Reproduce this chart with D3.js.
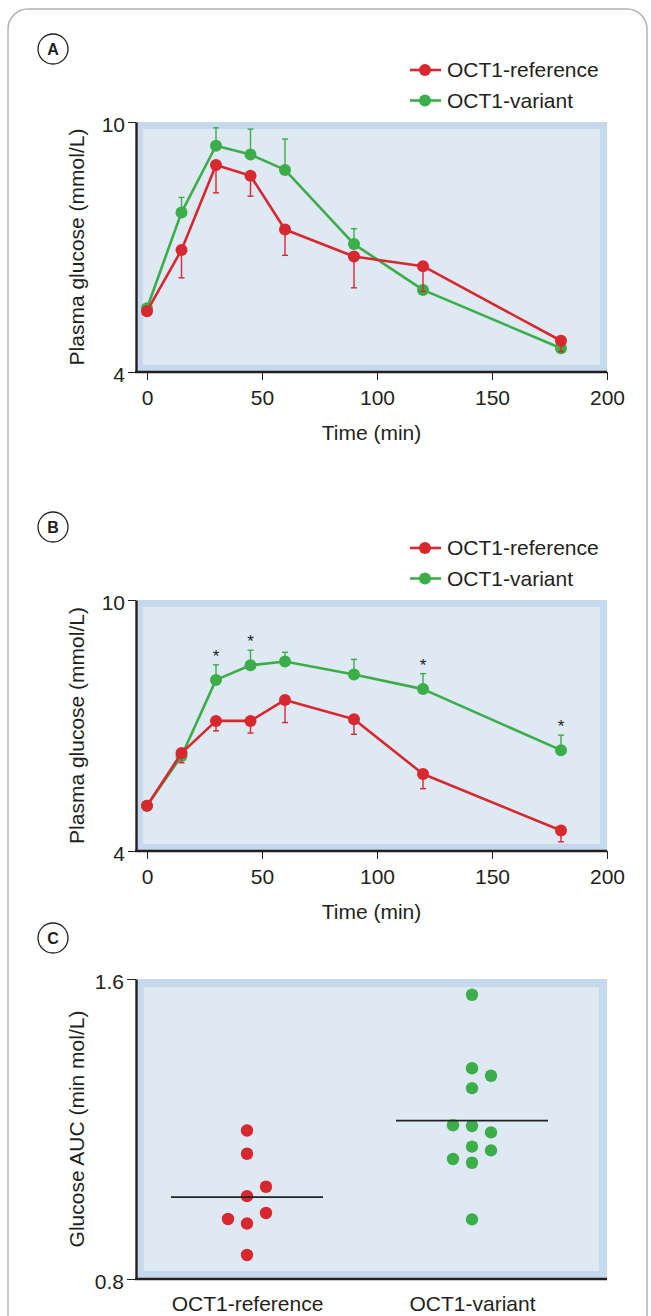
<!DOCTYPE html>
<html><head><meta charset="utf-8">
<script src="https://cdn.jsdelivr.net/npm/d3@7"></script>
<style>
html,body{margin:0;padding:0;background:#fff;}
svg{display:block;font-family:"Liberation Sans",Arial,Helvetica,sans-serif;}
</style></head><body>
<svg id="chart" width="651" height="1316"></svg>
<script>
// ---------- data ----------
const times = [0, 15, 30, 45, 60, 90, 120, 180];
const seriesNames = ["OCT1-reference", "OCT1-variant"];
const aRef    = [5.46, 6.93, 8.97, 8.71, 7.42, 6.77, 6.54, 4.75];
const aRefErr = [0, 0.67, 0.67, 0.49, 0.62, 0.75, 0.61, 0.26];
const aVar    = [5.53, 7.83, 9.43, 9.22, 8.85, 7.07, 5.97, 4.57];
const aVarErr = [0, 0.36, 0.43, 0.61, 0.74, 0.37, 0, 0];
const bRef    = [5.08, 6.34, 7.11, 7.11, 7.61, 7.15, 5.84, 4.49];
const bRefErr = [0, 0.23, 0.24, 0.29, 0.54, 0.36, 0.35, 0.27];
const bVar    = [5.08, 6.27, 8.09, 8.44, 8.53, 8.22, 7.87, 6.41];
const bVarErr = [0, 0, 0.36, 0.36, 0.22, 0.36, 0.37, 0.36];
const bSig    = [false, false, true, true, false, false, true, true];
const xTicks = [0, 50, 100, 150, 200];
const glucoseTicks = [4, 10];
const aucRef = [1.196, 1.134, 1.021, 1.046, 0.948, 0.976, 0.960, 0.864];
const aucVar = [1.558, 1.362, 1.309, 1.342, 1.208, 1.110, 1.153, 1.191, 1.143, 1.210, 1.120, 0.959];
const aucTicks = [0.8, 1.6];

// ---------- styles ----------
const RED = "#d7282f", GREEN = "#3bae49", TXT = "#231f20";
const BG_OUT = "#c6d8ec", BG_IN = "#dfe9f4";
const FS = 21;
const svg = d3.select("#chart");
const left = 136, right = 607, inset = 7;

// outer frame
svg.append("rect").attr("x", 8).attr("y", 9).attr("width", 639).attr("height", 1400)
  .attr("rx", 20).attr("fill", "none").attr("stroke", "#b4b4b4").attr("stroke-width", 1.5);

function circleLabel(cy, letter) {
  svg.append("circle").attr("cx", 53).attr("cy", cy).attr("r", 15)
    .attr("fill", "#fff").attr("stroke", TXT).attr("stroke-width", 1.3);
  svg.append("text").attr("x", 53).attr("y", cy).attr("dy", "0.36em")
    .attr("text-anchor", "middle").attr("font-size", 16).attr("font-weight", "bold")
    .attr("fill", TXT).text(letter);
}

function background(top, bottom) {
  svg.append("rect").attr("x", left).attr("y", top).attr("width", right - left).attr("height", bottom - top).attr("fill", BG_OUT);
  svg.append("rect").attr("x", left + inset).attr("y", top + inset).attr("width", right - left - 2 * inset)
    .attr("height", bottom - top - 2 * inset).attr("fill", BG_IN);
}

function styleAxis(g) {
  g.selectAll("text").attr("font-size", FS).attr("fill", TXT).attr("font-family", "Liberation Sans, Arial, sans-serif");
  g.selectAll(".tick line").attr("stroke", TXT).attr("stroke-width", 1);
  g.select(".domain").attr("stroke", TXT).attr("stroke-width", 2.4);
}

function legend(y0) {
  [[seriesNames[0], RED], [seriesNames[1], GREEN]].forEach(([name, col], i) => {
    const y = y0 + i * 30.5;
    svg.append("line").attr("x1", 410).attr("x2", 441).attr("y1", y).attr("y2", y).attr("stroke", col).attr("stroke-width", 2.6);
    svg.append("circle").attr("cx", 425).attr("cy", y).attr("r", 6).attr("fill", col);
    svg.append("text").attr("x", 447).attr("y", y).attr("dy", "0.35em").attr("font-size", FS).attr("fill", TXT).text(name);
  });
}

function linePanel(cfg) {
  const {top, bottom, ref, refErr, vari, variErr, sig, legendY, letterY} = cfg;
  circleLabel(letterY, cfg.letter);
  legend(legendY);
  background(top, bottom);
  const x = d3.scaleLinear().domain([0, 200]).range([147, 607]);
  const y = d3.scaleLinear().domain([4, 10]).range([bottom, top]);

  const yAxis = svg.append("g").attr("transform", `translate(${left},0)`)
    .call(d3.axisLeft(y).tickValues(glucoseTicks).tickFormat(d3.format("d")).tickSize(8).tickSizeOuter(0).tickPadding(3));
  styleAxis(yAxis);
  yAxis.selectAll("text").attr("dy", "0.45em");
  const xAxis = svg.append("g").attr("transform", `translate(0,${bottom})`)
    .call(d3.axisBottom(x).tickValues(xTicks).tickFormat(d3.format("d")).tickSize(8).tickSizeOuter(0).tickPadding(10));
  styleAxis(xAxis);
  xAxis.select(".domain").remove();
  svg.append("line").attr("x1", left - 1).attr("x2", x(200)).attr("y1", bottom).attr("y2", bottom)
    .attr("stroke", TXT).attr("stroke-width", 2.4);

  svg.append("text").attr("x", (left + right) / 2).attr("y", bottom + 68).attr("text-anchor", "middle")
    .attr("font-size", FS).attr("fill", TXT).text("Time (min)");
  svg.append("text").attr("transform", `translate(84,${(top + bottom) / 2}) rotate(-90)`).attr("text-anchor", "middle")
    .attr("font-size", FS).attr("fill", TXT).text("Plasma glucose (mmol/L)");

  const line = d3.line().x((d, i) => x(times[i])).y(d => y(d));
  function series(vals, errs, col, dir) {
    const g = svg.append("g");
    g.append("path").datum(vals).attr("d", line).attr("fill", "none").attr("stroke", col).attr("stroke-width", 2.6).attr("stroke-linejoin", "round");
    vals.forEach((v, i) => {
      if (errs[i] > 0) {
        const e = v + dir * errs[i];
        g.append("line").attr("x1", x(times[i])).attr("x2", x(times[i])).attr("y1", y(v)).attr("y2", y(e)).attr("stroke", col).attr("stroke-width", 1.4);
        g.append("line").attr("x1", x(times[i]) - 3).attr("x2", x(times[i]) + 3).attr("y1", y(e)).attr("y2", y(e)).attr("stroke", col).attr("stroke-width", 1.4);
      }
    });
    g.selectAll("circle").data(vals).join("circle").attr("cx", (d, i) => x(times[i])).attr("cy", d => y(d)).attr("r", 6).attr("fill", col);
  }
  series(vari, variErr, GREEN, 1);
  series(ref, refErr, RED, -1);
  if (sig) {
    vari.forEach((v, i) => {
      if (sig[i]) svg.append("text").attr("x", x(times[i])).attr("y", y(v + variErr[i]) - 3).attr("text-anchor", "middle")
        .attr("font-size", 17).attr("fill", TXT).text("*");
    });
  }
}

linePanel({letter: "A", letterY: 49, legendY: 70, top: 122, bottom: 372, ref: aRef, refErr: aRefErr, vari: aVar, variErr: aVarErr});
linePanel({letter: "B", letterY: 527, legendY: 548, top: 600, bottom: 851, ref: bRef, refErr: bRefErr, vari: bVar, variErr: bVarErr, sig: bSig});

// ---------- panel C ----------
(function () {
  const top = 979, bottom = 1279;
  circleLabel(938, "C");
  svg.append("rect").attr("x", left).attr("y", top).attr("width", right - left).attr("height", bottom - top).attr("fill", BG_OUT);
  svg.append("rect").attr("x", left + 8).attr("y", top + 8).attr("width", right - left - 16).attr("height", bottom - top - 16).attr("fill", BG_IN);
  const y = d3.scaleLinear().domain([0.8, 1.6]).range([bottom, top]);
  const xc = d3.scalePoint().domain(seriesNames).range([247, 472]);
  const yAxis = svg.append("g").attr("transform", `translate(${left},0)`)
    .call(d3.axisLeft(y).tickValues(aucTicks).tickFormat(d3.format(".1f")).tickSize(9).tickSizeOuter(0).tickPadding(3));
  styleAxis(yAxis);
  yAxis.selectAll("text").attr("dy", "0.45em");
  const xAxis = svg.append("g").attr("transform", `translate(0,${bottom})`)
    .call(d3.axisBottom(xc).tickSize(0).tickPadding(17));
  styleAxis(xAxis);
  xAxis.select(".domain").remove();
  svg.append("line").attr("x1", left - 1).attr("x2", right).attr("y1", bottom).attr("y2", bottom).attr("stroke", TXT).attr("stroke-width", 2.4);
  svg.append("text").attr("transform", `translate(84,${(top + bottom) / 2}) rotate(-90)`).attr("text-anchor", "middle")
    .attr("font-size", FS).attr("fill", TXT).text("Glucose AUC (min mol/L)");

  function swarm(vals, name, col) {
    const cx = xc(name), placed = [];
    vals.forEach(v => {
      const py = y(v);
      for (const c of [0, 1, -1, 2, -2]) {
        if (!placed.some(p => p.c === c && Math.abs(p.py - py) < 13)) { placed.push({c, py, v}); break; }
      }
    });
    svg.append("g").selectAll("circle").data(placed).join("circle")
      .attr("cx", d => cx + d.c * 19).attr("cy", d => d.py).attr("r", 6.2).attr("fill", col);
    const m = d3.mean(vals);
    svg.append("line").attr("x1", cx - 76).attr("x2", cx + 76).attr("y1", y(m)).attr("y2", y(m)).attr("stroke", "#222").attr("stroke-width", 1.8);
  }
  swarm(aucRef, seriesNames[0], RED);
  swarm(aucVar, seriesNames[1], GREEN);
})();
</script>
</body></html>
